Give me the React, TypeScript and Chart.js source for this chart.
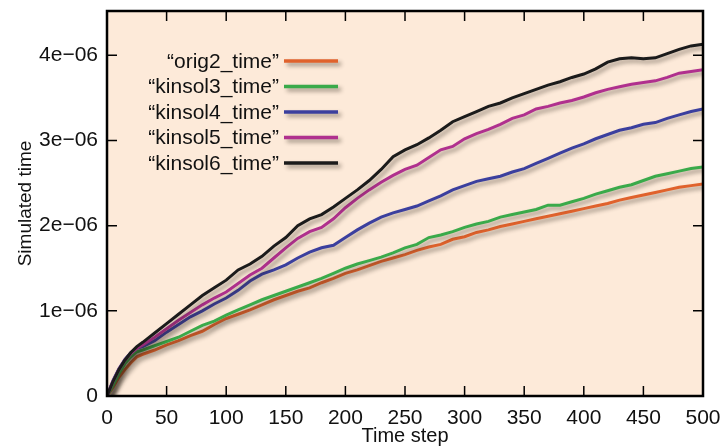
import React, { useEffect, useRef } from "react";
import { Chart, registerables } from "chart.js";

Chart.register(...registerables);

// Time steps (x values)
const timeSteps = [
  0, 5, 10, 15, 20, 25, 30, 40, 50, 60, 70, 80, 90, 100, 110, 120, 130, 140, 150,
  160, 170, 180, 190, 200, 210, 220, 230, 240, 250, 260, 270, 280, 290, 300, 310,
  320, 330, 340, 350, 360, 370, 380, 390, 400, 410, 420, 430, 440, 450, 460, 470,
  480, 490, 500,
];

// Simulated time values, in units of 1e-06
const orig2Time = [
  0, 0.1, 0.22, 0.31, 0.39, 0.46, 0.49, 0.54, 0.6, 0.65, 0.71, 0.76, 0.84, 0.91, 0.96,
  1.01, 1.07, 1.13, 1.18, 1.23, 1.27, 1.33, 1.38, 1.44, 1.48, 1.53, 1.58, 1.62, 1.66, 1.71,
  1.75, 1.78, 1.84, 1.87, 1.92, 1.95, 1.99, 2.02, 2.05, 2.08, 2.11, 2.14, 2.17, 2.2, 2.23,
  2.26, 2.3, 2.33, 2.36, 2.39, 2.42, 2.45, 2.47, 2.49,
];
const kinsol3Time = [
  0, 0.12, 0.26, 0.38, 0.46, 0.52, 0.54, 0.59, 0.64, 0.69, 0.76, 0.83, 0.88, 0.95, 1.01,
  1.07, 1.13, 1.18, 1.23, 1.28, 1.33, 1.38, 1.44, 1.5, 1.55, 1.59, 1.63, 1.68, 1.74, 1.78,
  1.86, 1.89, 1.93, 1.98, 2.02, 2.05, 2.1, 2.13, 2.16, 2.19, 2.24, 2.24, 2.28, 2.32, 2.37,
  2.41, 2.45, 2.48, 2.53, 2.58, 2.61, 2.64, 2.67, 2.69,
];
const kinsol4Time = [
  0, 0.18, 0.32, 0.43, 0.51, 0.56, 0.58, 0.65, 0.75, 0.84, 0.93, 1.0, 1.08, 1.15, 1.24,
  1.35, 1.43, 1.48, 1.54, 1.62, 1.69, 1.74, 1.77, 1.86, 1.95, 2.03, 2.1, 2.15, 2.19, 2.23,
  2.29, 2.35, 2.42, 2.47, 2.52, 2.55, 2.58, 2.63, 2.67, 2.73, 2.79, 2.85, 2.91, 2.96, 3.02,
  3.07, 3.12, 3.15, 3.19, 3.21, 3.26, 3.3, 3.34, 3.37,
];
const kinsol5Time = [
  0, 0.17, 0.31, 0.42, 0.5, 0.56, 0.6, 0.69, 0.79, 0.89, 0.98, 1.07, 1.15, 1.22, 1.32,
  1.42, 1.5, 1.62, 1.74, 1.85, 1.93, 1.98, 2.08, 2.21, 2.32, 2.42, 2.51, 2.59, 2.66, 2.71,
  2.8, 2.89, 2.93, 3.02, 3.08, 3.13, 3.19, 3.26, 3.3, 3.37, 3.4, 3.44, 3.47, 3.51, 3.56,
  3.6, 3.63, 3.66, 3.68, 3.7, 3.74, 3.79, 3.81, 3.83,
];
const kinsol6Time = [
  0, 0.17, 0.31, 0.42, 0.51, 0.58, 0.63, 0.74, 0.85, 0.96, 1.07, 1.18, 1.27, 1.36, 1.48,
  1.55, 1.64, 1.76, 1.86, 2.0, 2.08, 2.13, 2.22, 2.32, 2.42, 2.53, 2.66, 2.81, 2.89, 2.95,
  3.03, 3.12, 3.22, 3.28, 3.34, 3.4, 3.44, 3.5, 3.55, 3.6, 3.65, 3.69, 3.74, 3.78, 3.84,
  3.92, 3.96, 3.97, 3.96, 3.97, 4.02, 4.07, 4.11, 4.13,
];

const seriesLabels = [
  "\u201corig2_time\u201d",
  "\u201ckinsol3_time\u201d",
  "\u201ckinsol4_time\u201d",
  "\u201ckinsol5_time\u201d",
  "\u201ckinsol6_time\u201d",
];
const seriesColors = ["#e0622c", "#3aaa4a", "#3b3f9e", "#b0308e", "#1b1b1b"];
const seriesValues = [orig2Time, kinsol3Time, kinsol4Time, kinsol5Time, kinsol6Time];

const xTickValues = [0, 50, 100, 150, 200, 250, 300, 350, 400, 450, 500];
const yTickValues = [0, 1e-6, 2e-6, 3e-6, 4e-6];
const yTickLabels = ["0", "1e\u221206", "2e\u221206", "3e\u221206", "4e\u221206"];

const UNIT = 1e-6;
const FONT = "'Liberation Sans', Arial, Helvetica, sans-serif";
const BG = "rgb(253,234,217)";

const shadowPlugin = {
  id: "lineShadow",
  beforeDatasetsDraw(chart: any) {
    const ctx = chart.ctx;
    ctx.save();
    ctx.shadowColor = "rgba(40,30,20,0.45)";
    ctx.shadowBlur = 4;
    ctx.shadowOffsetX = 3;
    ctx.shadowOffsetY = 3;
  },
  afterDatasetsDraw(chart: any) {
    chart.ctx.restore();
  },
};

const bgPlugin = {
  id: "plotBg",
  beforeDraw(chart: any) {
    const { ctx, chartArea: a } = chart;
    ctx.save();
    ctx.fillStyle = BG;
    ctx.fillRect(a.left, a.top, a.right - a.left, a.bottom - a.top);
    ctx.restore();
  },
};

const framePlugin = {
  id: "frameTicks",
  afterDraw(chart: any) {
    const { ctx, chartArea: a } = chart;
    const xs = chart.scales.x;
    const ys = chart.scales.y;
    ctx.save();
    ctx.strokeStyle = "#000";
    ctx.lineWidth = 1.5;
    const len = 10;
    ctx.beginPath();
    xTickValues.forEach((v) => {
      const px = xs.getPixelForValue(v);
      ctx.moveTo(px, a.bottom);
      ctx.lineTo(px, a.bottom - len);
      ctx.moveTo(px, a.top);
      ctx.lineTo(px, a.top + len);
    });
    yTickValues.forEach((v) => {
      const py = ys.getPixelForValue(v);
      ctx.moveTo(a.left, py);
      ctx.lineTo(a.left + len, py);
      ctx.moveTo(a.right, py);
      ctx.lineTo(a.right - len, py);
    });
    ctx.stroke();
    ctx.lineWidth = 2.5;
    ctx.strokeRect(a.left, a.top, a.right - a.left, a.bottom - a.top);
    ctx.restore();
  },
};

const legendPlugin = {
  id: "insideLegend",
  afterDatasetsDraw(chart: any) {
    const { ctx, chartArea: a } = chart;
    const textRight = a.left + 172;
    const lineStart = a.left + 177;
    const lineEnd = a.left + 231;
    const top = a.top + 50;
    const gap = 25.5;
    ctx.save();
    ctx.font = `21px ${FONT}`;
    ctx.textAlign = "right";
    ctx.textBaseline = "middle";
    chart.data.datasets.forEach((ds: any, i: number) => {
      const y = top + i * gap;
      ctx.fillStyle = "#111";
      ctx.fillText(ds.label, textRight, y + 1);
      ctx.save();
      ctx.shadowColor = "rgba(40,30,20,0.45)";
      ctx.shadowBlur = 4;
      ctx.shadowOffsetX = 3;
      ctx.shadowOffsetY = 3;
      ctx.strokeStyle = ds.borderColor;
      ctx.lineWidth = 3.5;
      ctx.beginPath();
      ctx.moveTo(lineStart, y);
      ctx.lineTo(lineEnd, y);
      ctx.stroke();
      ctx.restore();
    });
    ctx.restore();
  },
};

export default function App() {
  const canvasRef = useRef<HTMLCanvasElement>(null);

  useEffect(() => {
    document.body.style.margin = "0";
    const canvas = canvasRef.current;
    if (!canvas) return;
    const datasets = seriesValues.map((vals, i) => ({
      label: seriesLabels[i],
      data: vals.map((v, j) => ({ x: timeSteps[j], y: v * UNIT })),
      borderColor: seriesColors[i],
      backgroundColor: seriesColors[i],
      borderWidth: 3,
      pointRadius: 0,
      tension: 0,
      fill: false,
      order: seriesValues.length - 1 - i,
    }));
    const chart = new Chart(canvas, {
      type: "line",
      data: { datasets },
      options: {
        animation: false,
        responsive: false,
        devicePixelRatio: 1,
        layout: { padding: { left: 0, right: 18, top: 11, bottom: 0 } },
        plugins: {
          legend: { display: false },
          tooltip: { enabled: false },
        },
        scales: {
          x: {
            type: "linear",
            min: 0,
            max: 500,
            grid: { display: false },
            border: { display: false },
            afterBuildTicks: (scale: any) => {
              scale.ticks = xTickValues.map((v) => ({ value: v }));
            },
            afterFit: (scale: any) => {
              scale.height = 52;
              scale.paddingLeft = 0;
              scale.paddingRight = 0;
            },
            ticks: {
              color: "#111",
              font: { family: FONT, size: 21 },
              padding: 2,
              maxRotation: 0,
              autoSkip: false,
              callback: (v: any) => String(v),
            },
            title: {
              display: true,
              text: "Time step",
              color: "#111",
              font: { family: FONT, size: 20 },
              padding: { top: 0, bottom: 0 },
            },
          },
          y: {
            type: "linear",
            min: 0,
            max: 4.52e-6,
            grid: { display: false },
            border: { display: false },
            afterBuildTicks: (scale: any) => {
              scale.ticks = yTickValues.map((v) => ({ value: v }));
            },
            afterFit: (scale: any) => {
              scale.width = 107;
              scale.paddingTop = 0;
              scale.paddingBottom = 0;
            },
            ticks: {
              color: "#111",
              font: { family: FONT, size: 21 },
              padding: 1,
              autoSkip: false,
              callback: (v: any) => {
                const idx = yTickValues.findIndex((t) => Math.abs(t - v) < 1e-12);
                return idx >= 0 ? yTickLabels[idx] : "";
              },
            },
            title: {
              display: true,
              text: "Simulated time",
              color: "#111",
              font: { family: FONT, size: 19 },
              padding: { top: 14, bottom: 0 },
            },
          },
        },
      },
      plugins: [bgPlugin, shadowPlugin, legendPlugin, framePlugin],
    });
    return () => chart.destroy();
  }, []);

  return (
    <div style={{ position: "absolute", left: 0, top: 0, width: 721, height: 448, background: "#fff" }}>
      <canvas ref={canvasRef} width={721} height={448} />
    </div>
  );
}
